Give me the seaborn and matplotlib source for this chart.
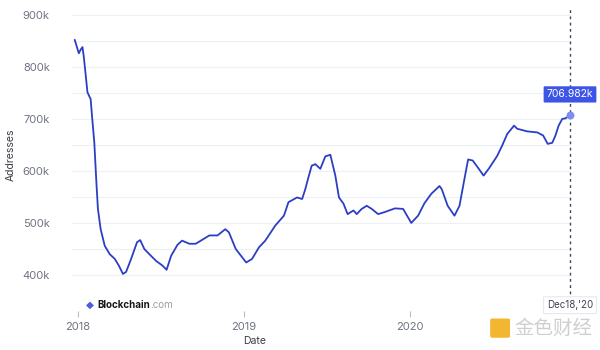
import matplotlib
matplotlib.use("Agg")
import matplotlib.pyplot as plt
from matplotlib.patches import FancyBboxPatch
import numpy as np
import pandas as pd
import seaborn as sns

# ---- data ----
dates = [
    "2017-12-25", "2018-01-03", "2018-01-07", "2018-01-11", "2018-01-14", "2018-01-22",
    "2018-01-29", "2018-02-01", "2018-02-06", "2018-02-11", "2018-02-14", "2018-02-20",
    "2018-03-01", "2018-03-12", "2018-03-23", "2018-04-01", "2018-04-10", "2018-04-17",
    "2018-04-28", "2018-05-11", "2018-05-18", "2018-05-27", "2018-06-07", "2018-06-22",
    "2018-07-06", "2018-07-15", "2018-07-25", "2018-08-08", "2018-08-18", "2018-09-03",
    "2018-09-17", "2018-10-17", "2018-11-04", "2018-11-21", "2018-11-29", "2018-12-14",
    "2019-01-06", "2019-01-19", "2019-02-03", "2019-02-17", "2019-03-11", "2019-03-30",
    "2019-04-09", "2019-04-28", "2019-05-09", "2019-05-16", "2019-05-22", "2019-05-30",
    "2019-06-07", "2019-06-18", "2019-06-29", "2019-07-10", "2019-07-21", "2019-07-29",
    "2019-08-08", "2019-08-17", "2019-08-30", "2019-09-06", "2019-09-17", "2019-09-28",
    "2019-10-09", "2019-10-23", "2019-11-07", "2019-11-29", "2019-12-17", "2020-01-04",
    "2020-01-19", "2020-02-02", "2020-02-17", "2020-03-06", "2020-03-11", "2020-03-24",
    "2020-04-08", "2020-04-19", "2020-04-30", "2020-05-08", "2020-05-18", "2020-05-29",
    "2020-06-11", "2020-06-23", "2020-07-11", "2020-07-22", "2020-08-02", "2020-08-17",
    "2020-08-24", "2020-09-15", "2020-10-07", "2020-10-20", "2020-10-30", "2020-11-09",
    "2020-11-16", "2020-11-23", "2020-12-01", "2020-12-08", "2020-12-18",
]
addresses_k = [
    852, 826, 833, 838, 819, 751,
    738, 706, 655, 572, 527, 488,
    456, 440, 431, 418, 402, 406,
    431, 463, 467, 450, 440, 427,
    418, 410, 437, 458, 466, 460,
    460, 476, 476, 488, 482, 450,
    424, 431, 453, 466, 495, 514,
    540, 549, 546, 565, 585, 610,
    613, 604, 628, 631, 591, 549,
    537, 517, 524, 517, 527, 533,
    527, 517, 521, 528, 527, 500,
    514, 538, 556, 571, 565, 533,
    514, 533, 585, 622, 620, 607,
    591, 605, 629, 649, 671, 687,
    681, 676, 674, 668, 652, 654,
    668, 687, 700, 701, 706.982,
]
year_ticks = ["2018-01-01", "2019-01-01", "2020-01-01"]
year_labels = ["2018", "2019", "2020"]
y_ticks_k = [400, 500, 600, 700, 800, 900]
y_labels = ["400k", "500k", "600k", "700k", "800k", "900k"]
last_label = "706.982k"
last_date_label = "Dec18,'20"

df = pd.DataFrame({"Date": pd.to_datetime(dates), "Addresses": np.array(addresses_k) * 1000})

sns.set_theme(style="white")
plt.rcParams["font.family"] = ["Inter", "DejaVu Sans"]

fig = plt.figure(figsize=(6, 3.5), dpi=100)
ax = fig.add_axes([0.12, 0.14, 0.83, 0.837])

LINE = "#2c3fc4"
sns.lineplot(data=df, x="Date", y="Addresses", ax=ax, color=LINE, linewidth=1.3)

ax.set_xlim(pd.Timestamp("2017-12-19"), pd.Timestamp("2020-12-18"))
ax.set_ylim(350000, 913000)

ax.set_yticks([v * 1000 for v in y_ticks_k])
ax.set_yticklabels(y_labels)
ax.set_yticks(np.arange(350000, 900001, 50000), minor=True)
ax.grid(True, which="both", axis="y", color="#edf0f4", linewidth=0.9)
ax.grid(False, axis="x")

ax.set_xticks(pd.to_datetime(year_ticks))
ax.set_xticklabels(year_labels)

for s in ["top", "right", "left", "bottom"]:
    ax.spines[s].set_visible(False)
ax.spines["bottom"].set_position(("outward", 7))

ax.tick_params(axis="x", which="major", length=4, width=0.8, color="#b8bcc4",
               labelsize=8, labelcolor="#6f7480", pad=4, bottom=True, direction="out")
ax.tick_params(axis="y", which="both", length=0, labelsize=8, labelcolor="#6f7480", pad=16)

ax.set_xlabel("Date", fontsize=7.5, color="#3a3d45")
ax.xaxis.set_label_coords(0.367, -0.12)
ax.set_ylabel("Addresses", fontsize=7.5, color="#3a3d45")
ax.yaxis.set_label_coords(-0.113, 0.5)

# vertical dashed marker at the last point
last_x = df["Date"].iloc[-1]
last_y = df["Addresses"].iloc[-1]
ax.axvline(last_x, ymin=0.005, ymax=1.0, color="#3f4560", linestyle=(0, (2, 2.5)),
           linewidth=1.0, clip_on=False)
ax.scatter([last_x], [last_y], s=22, color="#7d8df0", zorder=5, clip_on=False)

ax.annotate(last_label, xy=(last_x, last_y), xytext=(0, 15), textcoords="offset points",
            ha="center", va="center", fontsize=7.5, color="white",
            bbox=dict(boxstyle="round,pad=0.3,rounding_size=0.1", fc="#3d55e6", ec="none"))

ax.annotate(last_date_label, xy=(last_x, 350000), xytext=(0, -3), textcoords="offset points",
            ha="center", va="center", fontsize=7, color="#3f4350",
            bbox=dict(boxstyle="round,pad=0.35,rounding_size=0.1", fc="white", ec="#e6e8ec", lw=0.8),
            annotation_clip=False)

# Blockchain.com watermark
fig.text(0.143, 0.128, "\u25c6", fontsize=7.5, color="#4a5fd6", ha="left", va="center",
         family=["DejaVu Sans"])
t_bc = fig.text(0.162, 0.128, "Blockchain", fontsize=7, color="#15171c", fontweight="bold",
                ha="left", va="center")
ax.annotate(".com", xy=(1, 0.5), xycoords=t_bc, ha="left", va="center",
            fontsize=7, color="#9aa0aa", annotation_clip=False)

# 金色财经 watermark
logo = FancyBboxPatch((0.817, 0.035), 0.033, 0.055, boxstyle="round,pad=0,rounding_size=0.004",
                      transform=fig.transFigure, fc="#f2b630", ec="none")
fig.patches.append(logo)
fig.text(0.858, 0.062, "金色财经", fontsize=14, color="#cfcfcf", ha="left", va="center",
         family=["Noto Sans CJK SC", "DejaVu Sans"])

fig.savefig("out.png", dpi=100)
